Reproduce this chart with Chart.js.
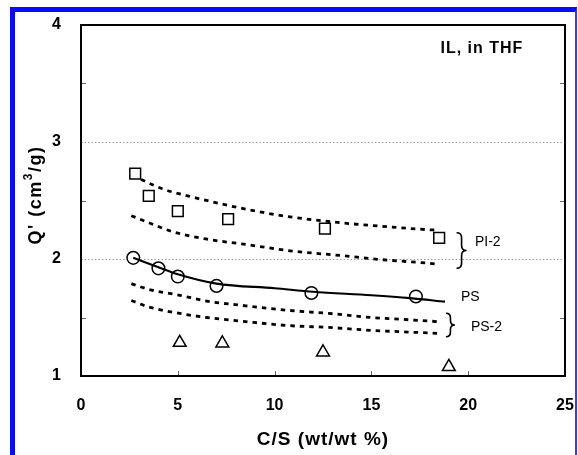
<!DOCTYPE html>
<html>
<head>
<meta charset="utf-8">
<script src="https://cdn.jsdelivr.net/npm/chart.js@4.4.1/dist/chart.umd.min.js"></script>
<style>
  html, body { margin: 0; padding: 0; background: #fff; overflow: hidden; }
  #wrap { position: relative; width: 578px; height: 455px; }
  #chart { position: absolute; left: 0; top: 0; }
  #frame {
    position: absolute; left: 10px; top: 7px; width: 567px; height: 470px;
    box-sizing: border-box; pointer-events: none;
    border-left: 5px solid #0b0bf5; border-top: 5px solid #0b0bf5; border-right: 2px solid #3a3af0;
  }
</style>
</head>
<body>
<div id="wrap">
  <canvas id="chart" width="578" height="455"></canvas>
  <div id="frame"></div>
</div>
<script>
// measured swelling values, Q' vs C/S
const piX = [2.8, 3.5, 5.0, 7.6, 12.6, 18.5];
const piY = [2.73, 2.54, 2.41, 2.34, 2.26, 2.18];
const psX = [2.7, 4.0, 5.0, 7.0, 11.9, 17.3];
const psY = [2.01, 1.92, 1.85, 1.77, 1.71, 1.68];
const ps2X = [5.1, 7.3, 12.5, 19.0];
const ps2Y = [1.285, 1.28, 1.203, 1.078];

// model curves
const fitPsX = [2.7, 4, 5, 7, 10, 12, 15, 17, 18.8];
const fitPsY = [2.01, 1.93, 1.87, 1.79, 1.75, 1.72, 1.69, 1.665, 1.635];
const piHiX = [3.1, 4.2, 5.5, 7, 8.7, 10.8, 13.4, 15.5, 17.5, 18.5];
const piHiY = [2.68, 2.60, 2.54, 2.48, 2.42, 2.36, 2.31, 2.28, 2.255, 2.245];
const piLoX = [2.6, 3.5, 4.8, 6.5, 8.7, 10.8, 13.4, 15.5, 17.5, 18.5];
const piLoY = [2.37, 2.31, 2.23, 2.17, 2.12, 2.07, 2.03, 1.995, 1.97, 1.955];
const ps2HiX = [2.6, 3.5, 5.1, 6.5, 8.5, 10.8, 12.8, 15, 17, 18.4];
const ps2HiY = [1.79, 1.74, 1.69, 1.64, 1.60, 1.56, 1.535, 1.50, 1.48, 1.465];
const ps2LoX = [2.6, 3.5, 5.1, 6.5, 8.5, 10.8, 12.8, 15, 17, 18.4];
const ps2LoY = [1.645, 1.59, 1.535, 1.50, 1.465, 1.43, 1.415, 1.39, 1.375, 1.365];

const xTicks = [0, 5, 10, 15, 20, 25];
const yTicks = [1, 2, 3, 4];

const FONT = '"Liberation Sans", Arial, Helvetica, sans-serif';

function pts(xs, ys) {
  return xs.map((x, i) => ({ x: x, y: ys[i] }));
}

function marker(label, xs, ys, style, r) {
  return {
    label: label, data: pts(xs, ys), showLine: false,
    pointStyle: style, pointRadius: r,
    pointBackgroundColor: '#fff', pointBorderColor: '#000', pointBorderWidth: 1.5
  };
}

function curve(label, xs, ys, dashed) {
  return {
    label: label, data: pts(xs, ys), showLine: true, pointRadius: 0,
    borderColor: '#000', borderWidth: dashed ? 2.8 : 2.2,
    borderDash: dashed ? [4.5, 5] : [], cubicInterpolationMode: 'monotone'
  };
}

// right-hand curly brace, tip pointing right
function brace(ctx, x, yTop, yBot, w) {
  const ym = (yTop + yBot) / 2, xm = x + w * 0.5, r = w * 0.5;
  ctx.beginPath();
  ctx.moveTo(x, yTop);
  ctx.quadraticCurveTo(xm, yTop, xm, yTop + r);
  ctx.lineTo(xm, ym - r);
  ctx.quadraticCurveTo(xm, ym, x + w, ym);
  ctx.quadraticCurveTo(xm, ym, xm, ym + r);
  ctx.lineTo(xm, yBot - r);
  ctx.quadraticCurveTo(xm, yBot, x, yBot);
  ctx.stroke();
}

// label paddings would shrink the plot area, keep it fixed
function noPad(s) {
  s.paddingTop = s.paddingBottom = s.paddingLeft = s.paddingRight = 0;
}

const framePlugin = {
  id: 'frame',
  beforeDatasetsDraw(chart) {
    const { ctx, chartArea: a, scales: { x, y } } = chart;
    ctx.save();
    // small inward ticks
    ctx.strokeStyle = '#666';
    ctx.lineWidth = 1;
    ctx.beginPath();
    [5, 10, 15, 20].forEach(v => {
      const px = Math.round(x.getPixelForValue(v)) + 0.5;
      ctx.moveTo(px, a.bottom); ctx.lineTo(px, a.bottom - 5);
    });
    [1.5, 2.5, 3.5].forEach(v => {
      const py = Math.round(y.getPixelForValue(v)) + 0.5;
      ctx.moveTo(a.left, py); ctx.lineTo(a.left + 5, py);
      ctx.moveTo(a.right, py); ctx.lineTo(a.right - 5, py);
    });
    ctx.stroke();
    ctx.strokeStyle = '#000';
    ctx.lineWidth = 2;
    ctx.strokeRect(a.left, a.top, a.right - a.left, a.bottom - a.top);
    ctx.restore();
  },
  afterDraw(chart) {
    const { ctx, chartArea: a, scales: { x, y } } = chart;
    ctx.save();
    ctx.fillStyle = '#000';
    ctx.strokeStyle = '#000';
    ctx.textBaseline = 'middle';

    // axis titles
    ctx.font = 'bold 19px ' + FONT;
    ctx.letterSpacing = '1px';
    ctx.textAlign = 'center';
    ctx.fillText('C/S (wt/wt %)', (a.left + a.right) / 2, 440);

    // y title with a raised 3
    ctx.letterSpacing = '1.5px';
    ctx.textAlign = 'left';
    const big = 'bold 18px ' + FONT, small = 'bold 12px ' + FONT;
    const parts = [["Q' (cm", big, 0], ['3', small, -7], ['/g)', big, 0]];
    let total = 0;
    parts.forEach(p => { ctx.font = p[1]; total += ctx.measureText(p[0]).width; });
    ctx.translate(36, 195);
    ctx.rotate(-Math.PI / 2);
    let cx = -total / 2;
    parts.forEach(p => {
      ctx.font = p[1];
      ctx.fillText(p[0], cx, p[2]);
      cx += ctx.measureText(p[0]).width;
    });
    ctx.setTransform(1, 0, 0, 1, 0, 0);

    ctx.font = 'bold 16px ' + FONT;
    ctx.letterSpacing = '1px';
    ctx.textAlign = 'right';
    ctx.fillText('IL, in THF', x.getPixelForValue(22.85), y.getPixelForValue(3.8));

    // series labels with braces
    ctx.letterSpacing = '0px';
    ctx.font = '14px ' + FONT;
    ctx.textAlign = 'left';
    ctx.lineWidth = 1.6;
    brace(ctx, x.getPixelForValue(19.4), y.getPixelForValue(2.225), y.getPixelForValue(1.92), 10);
    ctx.fillText('PI-2', x.getPixelForValue(20.35), y.getPixelForValue(2.145));
    ctx.fillText('PS', x.getPixelForValue(19.63), y.getPixelForValue(1.675));
    brace(ctx, x.getPixelForValue(18.85), y.getPixelForValue(1.536), y.getPixelForValue(1.336), 9);
    ctx.fillText('PS-2', x.getPixelForValue(20.14), y.getPixelForValue(1.42));
    ctx.restore();
  }
};

new Chart(document.getElementById('chart'), {
  type: 'scatter',
  data: {
    datasets: [
      curve('PI-2 upper', piHiX, piHiY, true),
      curve('PI-2 lower', piLoX, piLoY, true),
      curve('PS-2 upper', ps2HiX, ps2HiY, true),
      curve('PS-2 lower', ps2LoX, ps2LoY, true),
      curve('PS fit', fitPsX, fitPsY, false),
      marker('PI-2', piX, piY, 'rect', 7.6),
      marker('PS', psX, psY, 'circle', 6.3),
      marker('PS-2', ps2X, ps2Y, 'triangle', 7.4)
    ]
  },
  options: {
    responsive: false,
    animation: false,
    devicePixelRatio: 1,
    layout: { padding: { top: 25, right: 13, left: 0, bottom: 0 } },
    plugins: { legend: { display: false }, tooltip: { enabled: false } },
    scales: {
      x: {
        type: 'linear', min: 0, max: 25,
        afterBuildTicks: s => { s.ticks = xTicks.map(v => ({ value: v })); },
        afterFit: s => { s.height = 79; noPad(s); },
        grid: { display: false, drawTicks: false },
        border: { display: false },
        ticks: { padding: 20, color: '#000', font: { family: FONT, size: 16, weight: 'bold' } }
      },
      y: {
        type: 'linear', min: 1, max: 4,
        afterBuildTicks: s => { s.ticks = yTicks.map(v => ({ value: v })); },
        afterFit: s => { s.width = 81; noPad(s); },
        grid: {
          drawTicks: false, lineWidth: 1,
          color: c => (c.tick && (c.tick.value === 2 || c.tick.value === 3)) ? '#9a9a9a' : 'rgba(0,0,0,0)'
        },
        border: { display: false, dash: [1.5, 2] },
        ticks: { padding: 20, color: '#000', font: { family: FONT, size: 16, weight: 'bold' } }
      }
    }
  },
  plugins: [framePlugin]
});
</script>
</body>
</html>
